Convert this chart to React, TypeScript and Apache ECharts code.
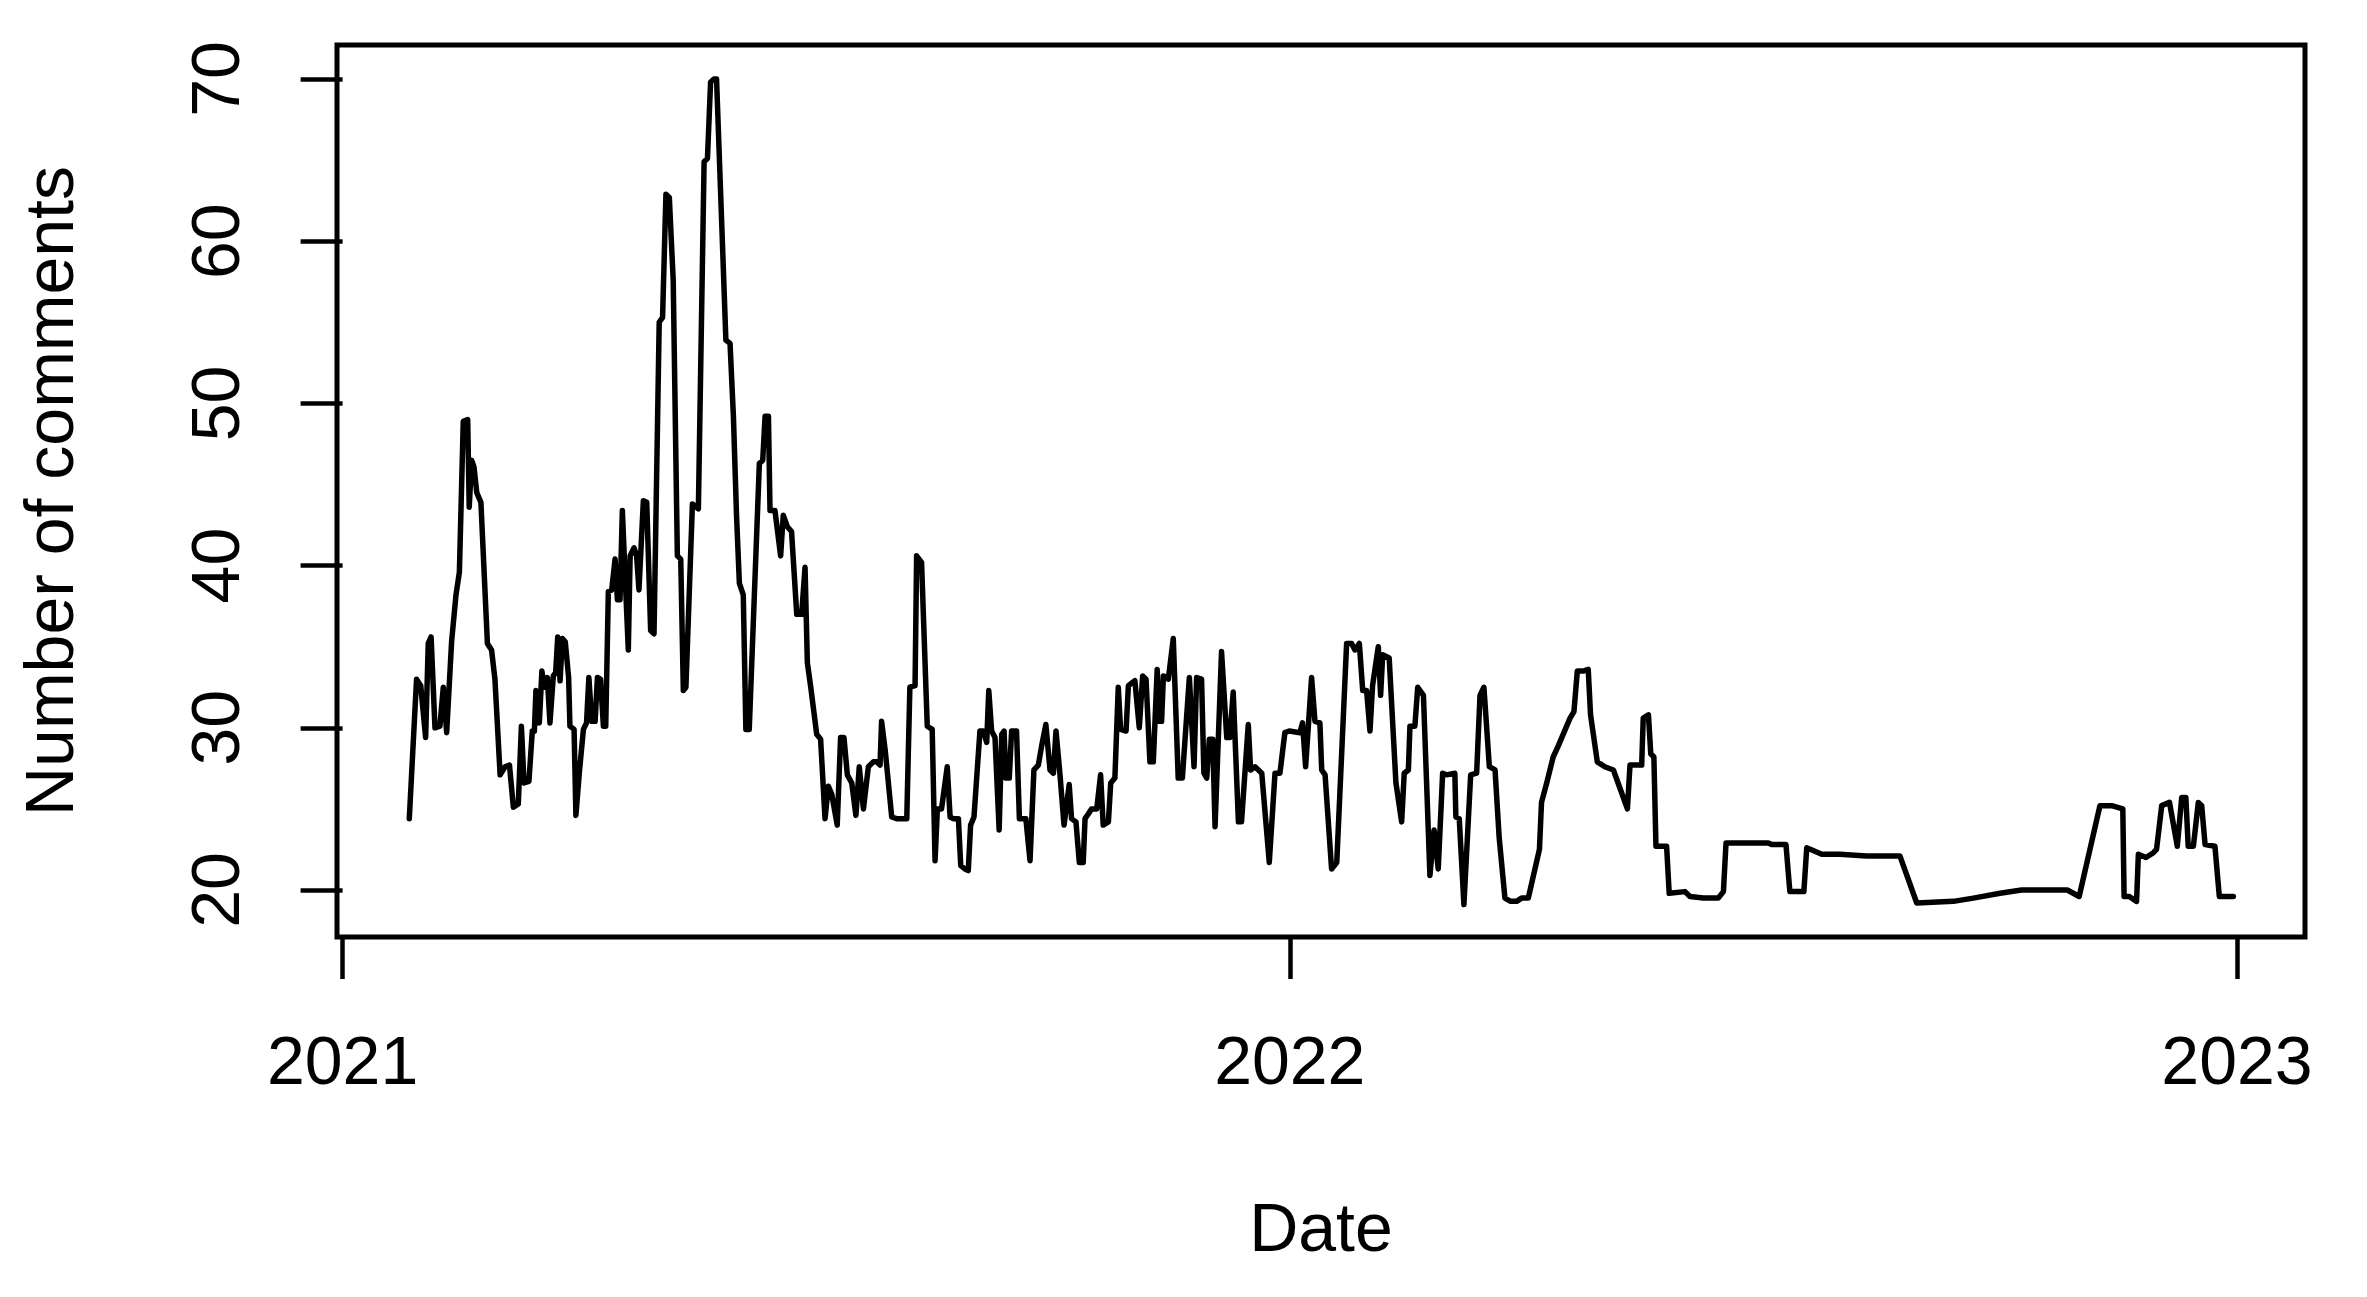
import React, { useEffect, useRef } from "react";
import * as echarts from "echarts";

// Days since 2021-01-01 for each observation
const dayOffsets = [
  25.7, 28.5, 30.1, 32.0, 33.0, 34.1, 35.6, 37.5, 38.8, 40.1,
  42.0, 43.7, 45.0, 46.5, 48.2, 48.8, 49.7, 50.6, 51.7, 53.3,
  55.8, 57.4, 58.7, 60.7, 62.6, 64.3, 65.8, 67.7, 68.9, 69.9,
  71.8, 73.1, 73.9, 74.5, 75.8, 76.8, 77.7, 78.9, 79.9, 81.2,
  82.1, 82.9, 83.8, 84.7, 85.8, 87.1, 87.6, 89.2, 89.9, 91.2,
  92.8, 94.0, 94.9, 96.0, 97.3, 98.2, 99.4, 100.5, 101.4, 102.4,
  103.7, 105.0, 105.9, 106.9, 107.8, 108.8, 110.1, 110.8, 112.3, 113.3,
  114.2, 115.9, 117.2, 118.7, 120.0, 122.0, 123.3, 124.6, 125.9, 127.4,
  129.0, 130.3, 131.3, 132.3, 134.8, 137.1, 139.3, 140.6, 141.8, 143.1,
  144.1, 147.7, 149.3, 150.6, 151.8, 152.9, 154.4, 155.4, 156.7, 160.6,
  161.9, 162.8, 164.1, 164.7, 166.6, 168.8, 169.8, 171.4, 173.0, 175.0,
  176.9, 178.2, 179.1, 180.4, 182.7, 184.2, 185.9, 187.2, 188.5, 190.6,
  191.9, 193.2, 194.5, 196.2, 197.8, 199.1, 200.7, 202.6, 204.5, 205.8,
  207.1, 207.7, 209.1, 211.6, 213.5, 215.4, 217.4, 218.6, 220.6, 221.2,
  223.1, 225.3, 227.2, 228.3, 229.2, 230.8, 233.0, 234.1, 235.3, 237.3,
  238.2, 239.8, 241.1, 242.0, 243.3, 245.6, 246.9, 248.2, 249.0, 250.1,
  251.4, 253.0, 254.0, 254.9, 255.6, 256.9, 257.8, 259.7, 260.8, 263.3,
  264.9, 266.4, 268.1, 269.4, 271.0, 272.6, 273.9, 274.9, 276.4, 278.0,
  280.0, 280.9, 282.6, 283.9, 285.4, 286.1, 287.4, 288.6, 290.6, 292.1,
  293.1, 295.1, 296.0, 297.6, 298.9, 299.8, 301.9, 302.8, 305.3, 307.0,
  308.3, 309.6, 311.1, 312.4, 313.9, 314.7, 315.6, 316.3, 318.2, 320.1,
  322.0, 323.6, 326.3, 328.1, 329.1, 331.0, 331.9, 333.0, 334.0, 335.3,
  336.2, 338.7, 340.7, 341.9, 343.2, 345.2, 346.4, 349.0, 349.9, 351.6,
  354.2, 357.1, 359.3, 361.2, 363.1, 364.8, 368.9, 369.9, 371.1, 373.4,
  374.7, 376.6, 377.3, 378.6, 381.1, 383.1, 386.9, 388.8, 390.1, 391.8,
  393.1, 394.6, 395.9, 396.9, 399.1, 400.0, 400.8, 403.3, 405.9, 408.1,
  409.1, 410.7, 411.3, 413.2, 414.3, 416.5, 419.0, 420.6, 422.2, 423.9,
  425.4, 428.6, 429.0, 430.3, 432.1, 434.7, 437.0, 438.3, 439.8, 441.9,
  444.1, 445.7, 447.9, 450.1, 452.4, 454.3, 456.9, 461.2, 462.0, 464.0,
  466.5, 468.5, 473.0, 474.5, 475.8, 478.1, 480.0, 480.9, 483.5, 486.4,
  489.7, 495.1, 496.1, 500.6, 501.2, 503.2, 504.1, 505.3, 506.1, 510.2,
  511.2, 517.3, 519.2, 524.4, 530.1, 532.1, 533.1, 549.4, 550.7, 556.2,
  557.7, 563.1, 564.2, 570.0, 577.0, 587.3, 600.1, 606.6, 620.7, 628.4,
  638.7, 647.0, 664.6, 669.2, 677.2, 681.7, 686.0, 686.5, 688.5, 691.3,
  692.0, 694.9, 697.8, 699.0, 701.0, 704.0, 707.0, 708.7, 710.3, 711.2,
  713.2, 715.1, 716.4, 717.7, 721.5, 723.2, 728.6,
];

// Number of comments at each observation
const comments = [
  24.4, 33.0, 32.6, 29.4, 35.2, 35.6, 30.0, 30.1, 32.5, 29.7,
  35.3, 38.2, 39.6, 48.9, 49.0, 43.6, 46.5, 46.1, 44.5, 43.9,
  35.2, 34.8, 33.0, 27.1, 27.6, 27.7, 25.1, 25.3, 30.1, 26.6,
  26.7, 29.8, 29.8, 32.3, 30.3, 33.5, 32.5, 33.1, 30.3, 33.2,
  33.4, 35.6, 32.9, 35.5, 35.3, 33.1, 30.1, 29.9, 24.6, 27.2,
  29.9, 30.3, 33.1, 30.4, 30.4, 33.1, 33.0, 30.1, 30.1, 38.4,
  38.5, 40.4, 37.9, 37.9, 43.4, 39.6, 34.8, 40.6, 41.1, 40.6,
  38.5, 44.0, 43.9, 36.0, 35.8, 55.0, 55.3, 62.9, 62.7, 57.6,
  40.6, 40.4, 32.3, 32.5, 43.8, 43.5, 64.9, 65.1, 69.8, 70.0,
  70.0, 53.9, 53.7, 49.2, 43.1, 38.9, 38.2, 29.9, 29.9, 46.3,
  46.5, 49.2, 49.2, 43.4, 43.4, 40.6, 43.1, 42.4, 42.1, 37.0,
  37.0, 39.9, 34.0, 32.5, 29.6, 29.3, 24.4, 26.4, 25.9, 24.0,
  29.4, 29.4, 27.1, 26.6, 24.6, 27.6, 25.0, 27.6, 27.9, 27.9,
  27.7, 30.4, 28.6, 24.5, 24.4, 24.4, 24.4, 32.5, 32.6, 40.6,
  40.2, 30.1, 29.9, 21.8, 25.0, 25.0, 27.6, 24.5, 24.4, 24.4,
  21.5, 21.3, 21.2, 24.0, 24.5, 29.8, 29.8, 29.1, 32.3, 29.8,
  29.4, 23.7, 29.6, 29.8, 26.9, 26.9, 29.8, 29.8, 24.4, 24.4,
  21.8, 27.4, 27.7, 28.9, 30.2, 27.4, 27.2, 29.8, 27.2, 24.0,
  26.5, 24.4, 24.2, 21.7, 21.7, 24.4, 24.7, 25.0, 25.0, 27.1,
  24.0, 24.2, 26.6, 26.9, 32.5, 29.9, 29.8, 32.6, 32.9, 30.0,
  33.2, 33.0, 27.9, 27.9, 33.6, 30.4, 30.4, 33.2, 33.0, 35.5,
  26.9, 26.9, 33.1, 27.6, 33.1, 33.0, 27.2, 26.9, 29.3, 29.3,
  23.9, 34.7, 29.4, 29.4, 32.2, 24.2, 24.2, 30.2, 27.4, 27.6,
  27.2, 21.7, 27.2, 27.2, 29.7, 29.8, 29.7, 30.3, 27.6, 33.1,
  30.4, 30.3, 27.4, 27.1, 21.3, 21.7, 35.2, 35.2, 34.8, 35.2,
  32.3, 32.3, 29.8, 32.6, 35.0, 32.0, 34.5, 34.3, 26.6, 24.2,
  27.2, 27.4, 30.1, 30.1, 32.5, 32.0, 20.9, 23.7, 21.3, 27.2,
  27.1, 27.2, 24.5, 24.4, 19.1, 27.1, 27.2, 32.0, 32.5, 27.6,
  27.4, 23.2, 19.5, 19.3, 19.3, 19.5, 19.5, 22.5, 25.4, 26.6,
  28.2, 28.9, 30.6, 31.0, 33.5, 33.5, 33.6, 30.8, 27.9, 27.6,
  27.4, 25.0, 27.7, 27.7, 30.6, 30.8, 28.4, 28.2, 22.7, 22.7,
  19.8, 19.9, 19.6, 19.5, 19.5, 19.9, 22.9, 22.9, 22.8, 22.8,
  19.9, 19.9, 22.6, 22.2, 22.2, 22.1, 22.1, 19.2, 19.3, 19.5,
  19.8, 20.0, 20.0, 19.6, 25.2, 25.2, 25.0, 19.6, 19.6, 19.3,
  22.2, 22.0, 22.3, 22.5, 25.2, 25.4, 22.7, 25.7, 25.7, 22.7,
  22.7, 25.4, 25.2, 22.8, 22.7, 19.6, 19.6,
];

const yearTickDays = [0, 365, 730];
const yearLabels = ["2021", "2022", "2023"];
const yTicks = [20, 30, 40, 50, 60, 70];

const FONT = "'Liberation Sans', Arial, Helvetica, sans-serif";

export default function App() {
  const ref = useRef<HTMLDivElement>(null);

  useEffect(() => {
    if (!ref.current) return;
    const chart = echarts.init(ref.current, null, { renderer: "svg" });
    chart.setOption({
      animation: false,
      backgroundColor: "#ffffff",
      grid: {
        left: 337,
        top: 45,
        width: 1968,
        height: 892,
        show: true,
        borderColor: "#000000",
        borderWidth: 5,
        backgroundColor: "transparent",
        containLabel: false,
      },
      xAxis: {
        type: "value",
        min: -2.158,
        max: 756.21,
        splitLine: { show: false },
        axisLine: { show: false },
        axisTick: {
          show: true,
          customValues: yearTickDays,
          length: 42,
          lineStyle: { color: "#000000", width: 4.5 },
        },
        axisLabel: {
          customValues: yearTickDays,
          formatter: (v: number) => {
            const i = yearTickDays.indexOf(Math.round(v));
            return i >= 0 ? yearLabels[i] : "";
          },
          margin: 89,
          fontSize: 68,
          color: "#000000",
          fontFamily: FONT,
        },
        name: "Date",
        nameLocation: "middle",
        nameGap: 256,
        nameTextStyle: { fontSize: 68, color: "#000000", fontFamily: FONT },
      },
      yAxis: {
        type: "value",
        min: 17.102,
        max: 72.096,
        splitLine: { show: false },
        axisLine: { show: false },
        axisTick: {
          show: true,
          customValues: yTicks,
          length: 42,
          lineStyle: { color: "#000000", width: 4.5 },
        },
        axisLabel: {
          customValues: yTicks,
          rotate: 90,
          margin: 88,
          fontSize: 68,
          color: "#000000",
          fontFamily: FONT,
        },
        name: "Number of comments",
        nameLocation: "middle",
        nameRotate: 90,
        nameGap: 254,
        nameTextStyle: { fontSize: 68, color: "#000000", fontFamily: FONT },
      },
      series: [
        {
          type: "line",
          data: dayOffsets.map((d, i) => [d, comments[i]]),
          showSymbol: false,
          symbol: "none",
          silent: true,
          lineStyle: { color: "#000000", width: 5.5, cap: "round", join: "round" },
        },
      ],
    });
    return () => chart.dispose();
  }, []);

  return (
    <div
      ref={ref}
      style={{ position: "absolute", left: 0, top: 0, width: 2367, height: 1297, background: "#ffffff" }}
    />
  );
}
